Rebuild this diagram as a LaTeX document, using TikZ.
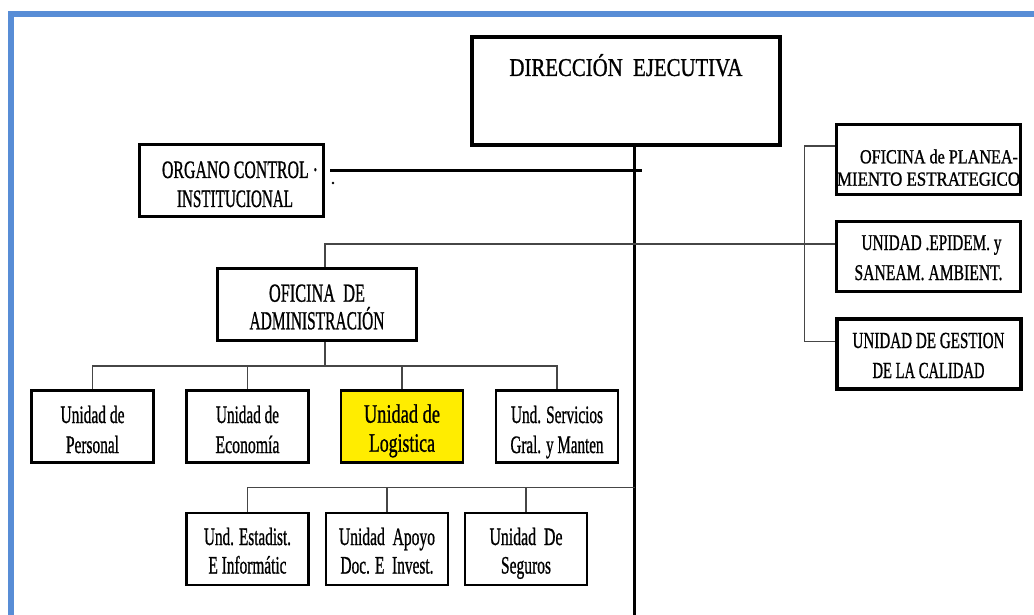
\documentclass[tikz,border=0pt]{standalone}
\usepackage{fontspec}
\setmainfont[FakeBold=1.1]{Liberation Serif}
\usepackage{graphicx}
\usetikzlibrary{calc}

% squeeze one line of text to a given width (pt), keeping its height
\newcommand\sqz[2]{\resizebox{#1pt}{\height}{#2}}
% invisible struts that fix the height above the first line / depth below the last
\newcommand\lnup[1]{\rule{0pt}{#1pt}}
\newcommand\lndn[1]{\rule[-#1pt]{0pt}{#1pt}}

\definecolor{framecol}{RGB}{88,141,214}
\definecolor{hilite}{RGB}{255,237,0}
\definecolor{linkcol}{RGB}{70,70,70}

\tikzset{
  orgbox/.style={draw=black, fill=white, rectangle, inner sep=0pt, align=center, line width=3pt},
  unitbox/.style={orgbox, line width=2.8pt, minimum width=122pt, minimum height=72pt},
  sidebox/.style={orgbox, minimum width=184pt, minimum height=70pt},
  fs/.style 2 args={font=\fontsize{#1}{#2}\selectfont},
  conn/.style={draw=linkcol, line width=1.7pt},
  trunkline/.style={draw=black, line width=2.4pt},
  boldlink/.style={draw=black, line width=3pt}
}

\begin{document}
\begin{tikzpicture}[x=1pt,y=-1pt]
\useasboundingbox (0,0) rectangle (1034,615);
\fill[white] (0,0) rectangle (1034,615);

% page frame
\fill[framecol] (8,11) rectangle (1034,16.7);
\fill[framecol] (8,11) rectangle (14.3,615);

% top level
\node[orgbox, line width=3.5pt, minimum width=308pt, minimum height=108pt, fs={25.5}{30}]
  (de) at (626,91) {\lnup{20}\sqz{233}{DIRECCIÓN~~EJECUTIVA}\lndn{52}};

\node[orgbox, minimum width=184pt, minimum height=72pt, fs={25}{29}]
  (oci) at (231.5,180.5)
  {\lnup{26}\hspace*{17pt}\sqz{156}{ORGANO CONTROL ·}\\\hspace*{7pt}\sqz{116}{INSTITUCIONAL}\lndn{2}};

\node[orgbox, minimum width=199pt, minimum height=72pt, fs={26}{27.6}]
  (oa) at (317,304.5)
  {\lnup{24}\sqz{96}{OFICINA~~DE}\\\sqz{135}{ADMINISTRACIÓN}\lndn{2}};

% staff units on the right
\node[sidebox, fs={20}{22.3}] (ope) at (928.5,159.5)
  {\lnup{31}\hspace*{21pt}\sqz{158}{OFICINA de PLANEA-}\\\sqz{183}{MIENTO ESTRATEGICO}\lndn{1}};
\node[sidebox, fs={22.5}{30}] (uep) at (928.5,256)
  {\lnup{24}\hspace*{6pt}\sqz{140}{UNIDAD .EPIDEM. y}\\\sqz{148}{SANEAM. AMBIENT.}\lndn{6}};
\node[sidebox, line width=4pt, fs={23}{30}] (ugc) at (928.5,353.5)
  {\lnup{21}\sqz{152}{UNIDAD DE GESTION}\\\sqz{112}{DE LA CALIDAD}\lndn{2}};

% units under administration
\node[unitbox, fs={25}{30}] (per) at (92.5,426.5)
  {\lnup{30}\sqz{64}{Unidad de}\\\sqz{53}{Personal}\lndn{7}};
\node[unitbox, fs={25}{30}] (eco) at (247.5,426.5)
  {\lnup{30}\sqz{63}{Unidad de}\\\sqz{64}{Economía}\lndn{7}};
\node[unitbox, fill=hilite, fs={26.5}{29}] (log) at (402,426.5)
  {\lnup{28.4}\sqz{76}{Unidad de}\\\sqz{66}{Logistica}\lndn{7}};
\node[unitbox, fs={25}{30}] (ser) at (557,426.5)
  {\lnup{30}\sqz{92}{Und. Servicios}\\\sqz{93}{Gral. y Manten}\lndn{7}};

% units on the lower branch
\node[unitbox, fs={25}{28.5}] (est) at (247.5,549)
  {\lnup{27.5}\sqz{87}{Und. Estadist.}\\\sqz{78}{E Informátic}\lndn{7}};
\node[unitbox, fs={25}{28.5}] (apo) at (387,549)
  {\lnup{27.5}\sqz{96}{Unidad~~Apoyo}\\\sqz{93}{Doc. E~~Invest.}\lndn{7}};
\node[unitbox, fs={25}{28.5}] (seg) at (526,549)
  {\lnup{27.5}\sqz{73}{Unidad~~De}\\\sqz{50}{Seguros}\lndn{7}};

% routing points
\coordinate (trunkbot) at (634.5,615);
\coordinate (ocitip) at (642,171);
\coordinate (xa) at (325,244);
\coordinate (r1) at (0,366);
\coordinate (r2) at (0,487.5);

% main trunk
\draw[trunkline] (de.south -| trunkbot) -- (trunkbot);

% control office link
\draw[boldlink] ($(oci.east |- ocitip)+(5,0)$) -- (ocitip);
\fill (333,183) circle (1.3pt);

% administration and staff link
\draw[conn] (oa.north -| xa) -- (xa) -- (uep.west |- xa);

% staff bus on the right
\draw[conn, line width=1.5pt] ($(ope.west)+(0,-13.5)$) -| ($(ugc.west)+(-30,-11.8)$) -- ($(ugc.west)+(0,-11.8)$);

% administration units
\draw[conn] (oa.south -| xa) -- (xa |- r1);
\draw[conn] (per.north) -- (per.north |- r1) -- (ser.north |- r1) -- (ser.north);
\draw[conn] (eco.north) -- (eco.north |- r1);
\draw[conn] (log.north) -- (log.north |- r1);

% lower branch units
\draw[conn] (est.north) -- (est.north |- r2) -- (trunkbot |- r2);
\draw[conn] (apo.north) -- (apo.north |- r2);
\draw[conn] (seg.north) -- (seg.north |- r2);
\end{tikzpicture}
\end{document}
